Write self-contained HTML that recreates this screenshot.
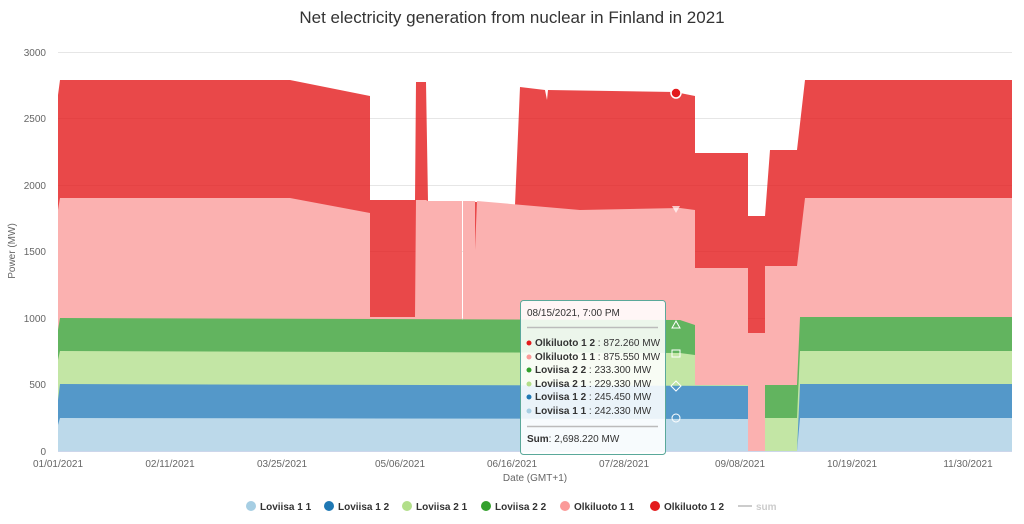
<!DOCTYPE html>
<html><head><meta charset="utf-8"><style>
body{margin:0;background:#fff;font-family:"Liberation Sans",sans-serif;}
svg{display:block}
</style></head><body>
<svg width="1024" height="524" xmlns="http://www.w3.org/2000/svg" font-family="Liberation Sans, sans-serif">
<text x="512" y="23" text-anchor="middle" font-size="17" fill="#333">Net electricity generation from nuclear in Finland in 2021</text>
<g stroke="#e6e6e6" stroke-width="1">
<line x1="58" x2="1012" y1="52.5" y2="52.5"/><line x1="58" x2="1012" y1="118.5" y2="118.5"/>
<line x1="58" x2="1012" y1="185.5" y2="185.5"/><line x1="58" x2="1012" y1="251.5" y2="251.5"/>
<line x1="58" x2="1012" y1="318.5" y2="318.5"/><line x1="58" x2="1012" y1="384.5" y2="384.5"/>
</g>
<g font-size="10" fill="#666" text-anchor="end">
<text x="46" y="56">3000</text><text x="46" y="122">2500</text><text x="46" y="189">2000</text>
<text x="46" y="255">1500</text><text x="46" y="322">1000</text><text x="46" y="388">500</text><text x="46" y="455">0</text>
</g>
<text transform="translate(15,251) rotate(-90)" text-anchor="middle" font-size="10" fill="#666">Power (MW)</text>
<g opacity="0.8">
<!-- Olkiluoto 1 2 (total) -->
<polygon fill="#e31a1c" points="58,451 58,95 60,80 290,80 370,96 370,200 415,200 416,82 426,82 428,201 462,201 462,451 463,451 463,201 515,205 520,87 545,90 547,100 548,90 675,92 695,96 695,153 748,153 748,216 765,216 770,150 797,150 805,80 1012,80 1012,451"/>
</g>
<!-- pink layer top -->
<polygon fill="#fbb1b0" points="58,451 58,210 60,198 290,198 370,213 370,317 415,317 416,200 426,200 428,201 462,201 462,451 463,451 463,201 475,201 475,250 477,201 580,210 680,208 695,210 695,268 748,268 748,333 765,333 765,266 797,266 805,198 1012,198 1012,451"/>
<polygon fill="#62b45f" points="58,451 58,330 60,318 680,320 695,325 695,385 748,385 748,451 765,451 765,385 797,385 800,317 1012,317 1012,451"/>
<polygon fill="#c3e6a5" points="58,451 58,360 60,351 680,353 695,355 695,385 748,385 748,451 765,451 765,418 797,418 800,351 1012,351 1012,451"/>
<polygon fill="#5498c9" points="58,451 58,400 60,384 748,386 748,451 797,451 800,384 1012,384 1012,451"/>
<polygon fill="#bcd9ea" points="58,451 58,425 60,418 748,419 748,451 797,451 800,418 1012,418 1012,451"/>
<line x1="58" x2="1012" y1="451.5" y2="451.5" stroke="#ccd6eb"/>
<g font-size="10" fill="#666" text-anchor="middle">
<text x="58" y="467">01/01/2021</text><text x="170" y="467">02/11/2021</text><text x="282" y="467">03/25/2021</text>
<text x="400" y="467">05/06/2021</text><text x="512" y="467">06/16/2021</text><text x="624" y="467">07/28/2021</text>
<text x="740" y="467">09/08/2021</text><text x="852" y="467">10/19/2021</text><text x="968" y="467">11/30/2021</text>
</g>
<text x="535" y="481" text-anchor="middle" font-size="10" fill="#666">Date (GMT+1)</text>
<!-- markers -->
<circle cx="676" cy="93" r="5" fill="#e31a1c" stroke="#fff" stroke-width="1.5"/>
<polygon points="672,206 680,206 676,213" fill="#fff" opacity="0.7"/>
<polygon points="672,328 680,328 676,321" fill="none" stroke="#fff"/>
<rect x="672" y="350" width="8" height="7" fill="none" stroke="#fff"/>
<polygon points="676,381 681,386 676,391 671,386" fill="none" stroke="#fff"/>
<circle cx="676" cy="418" r="4" fill="none" stroke="#fff"/>
<!-- tooltip -->
<rect x="520.5" y="300.5" width="145" height="154" rx="3" fill="#fff" fill-opacity="0.88" stroke="#5aa89a"/>
<g font-size="10" fill="#333">
<text x="527" y="316">08/15/2021, 7:00 PM</text>
<line x1="527" x2="658" y1="327.5" y2="327.5" stroke="#bbb" stroke-width="1.5"/>
<circle cx="529" cy="343" r="2.5" fill="#e31a1c"/><text x="535" y="346"><tspan font-weight="bold">Olkiluoto 1 2</tspan> : 872.260 MW</text>
<circle cx="529" cy="357" r="2.5" fill="#fb9a99"/><text x="535" y="360"><tspan font-weight="bold">Olkiluoto 1 1</tspan> : 875.550 MW</text>
<circle cx="529" cy="370" r="2.5" fill="#33a02c"/><text x="535" y="373"><tspan font-weight="bold">Loviisa 2 2</tspan> : 233.300 MW</text>
<circle cx="529" cy="384" r="2.5" fill="#b2df8a"/><text x="535" y="387"><tspan font-weight="bold">Loviisa 2 1</tspan> : 229.330 MW</text>
<circle cx="529" cy="397" r="2.5" fill="#1f78b4"/><text x="535" y="400"><tspan font-weight="bold">Loviisa 1 2</tspan> : 245.450 MW</text>
<circle cx="529" cy="411" r="2.5" fill="#a6cee3"/><text x="535" y="414"><tspan font-weight="bold">Loviisa 1 1</tspan> : 242.330 MW</text>
<line x1="527" x2="658" y1="426.5" y2="426.5" stroke="#bbb" stroke-width="1.5"/>
<text x="527" y="442"><tspan font-weight="bold">Sum</tspan>: 2,698.220 MW</text>
</g>
<!-- legend -->
<g font-size="10" fill="#333" font-weight="bold">
<circle cx="251" cy="506" r="5" fill="#a6cee3"/><text x="260" y="510">Loviisa 1 1</text>
<circle cx="329" cy="506" r="5" fill="#1f78b4"/><text x="338" y="510">Loviisa 1 2</text>
<circle cx="407" cy="506" r="5" fill="#b2df8a"/><text x="416" y="510">Loviisa 2 1</text>
<circle cx="486" cy="506" r="5" fill="#33a02c"/><text x="495" y="510">Loviisa 2 2</text>
<circle cx="565" cy="506" r="5" fill="#fb9a99"/><text x="574" y="510">Olkiluoto 1 1</text>
<circle cx="655" cy="506" r="5" fill="#e31a1c"/><text x="664" y="510">Olkiluoto 1 2</text>
<line x1="738" x2="752" y1="506" y2="506" stroke="#ccc" stroke-width="2"/><text x="756" y="510" fill="#ccc">sum</text>
</g>
</svg>
</body></html>
